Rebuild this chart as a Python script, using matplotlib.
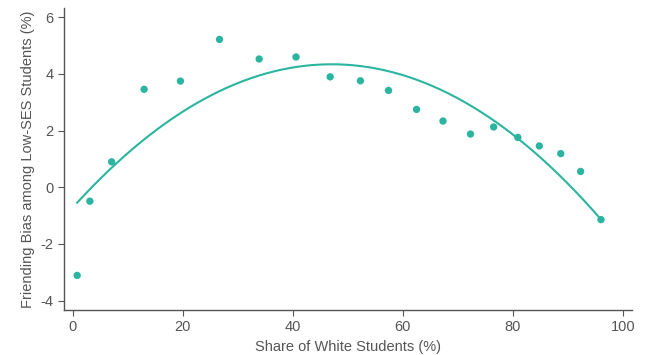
import numpy as np
import matplotlib
matplotlib.use("Agg")
import matplotlib.pyplot as plt

# Binned share of white students (%) and friending bias among low-SES students (%)
share_white = [0.84, 3.15, 7.1, 13.0, 19.6, 26.7, 33.9, 40.6, 46.8, 52.3,
               57.4, 62.5, 67.3, 72.3, 76.5, 80.9, 84.8, 88.7, 92.3, 96.0]
friending_bias = [-3.11, -0.49, 0.90, 3.46, 3.75, 5.22, 4.53, 4.60, 3.90, 3.76,
                  3.42, 2.75, 2.34, 1.88, 2.13, 1.76, 1.46, 1.19, 0.56, -1.14]

x_ticks = [0, 20, 40, 60, 80, 100]
y_ticks = [-4, -2, 0, 2, 4, 6]

teal = "#2bb5a0"
grey = "#555555"

plt.rcParams["font.family"] = ["Liberation Sans", "DejaVu Sans"]
plt.rcParams["axes.unicode_minus"] = False

fig = plt.figure(figsize=(6.52, 3.55), dpi=100)
ax = fig.add_axes([0.0986, 0.1268, 0.8704, 0.8507])

x = np.array(share_white)
y = np.array(friending_bias)

# Quadratic fit through the binned means
coef = np.polyfit(x, y, 2)
xs = np.linspace(x.min(), x.max(), 200)
ax.plot(xs, np.polyval(coef, xs), color=teal, lw=1.5, zorder=2)

ax.scatter(x, y, s=28, color=teal, edgecolors="none", zorder=3)

ax.set_xlim(-1.5, 101.6)
ax.set_ylim(-4.33, 6.33)
ax.set_xticks(x_ticks)
ax.set_yticks(y_ticks)

for side in ("top", "right"):
    ax.spines[side].set_visible(False)
for side in ("left", "bottom"):
    ax.spines[side].set_color(grey)
    ax.spines[side].set_linewidth(1.0)

ax.tick_params(colors=grey, labelcolor=grey, labelsize=10.5, length=4, width=0.8)
ax.set_xlabel("Share of White Students (%)", fontsize=10.5, color=grey, labelpad=4)
ax.set_ylabel("Friending Bias among Low-SES Students (%)", fontsize=10.5, color=grey, labelpad=4)

fig.savefig("out.png", dpi=100)
